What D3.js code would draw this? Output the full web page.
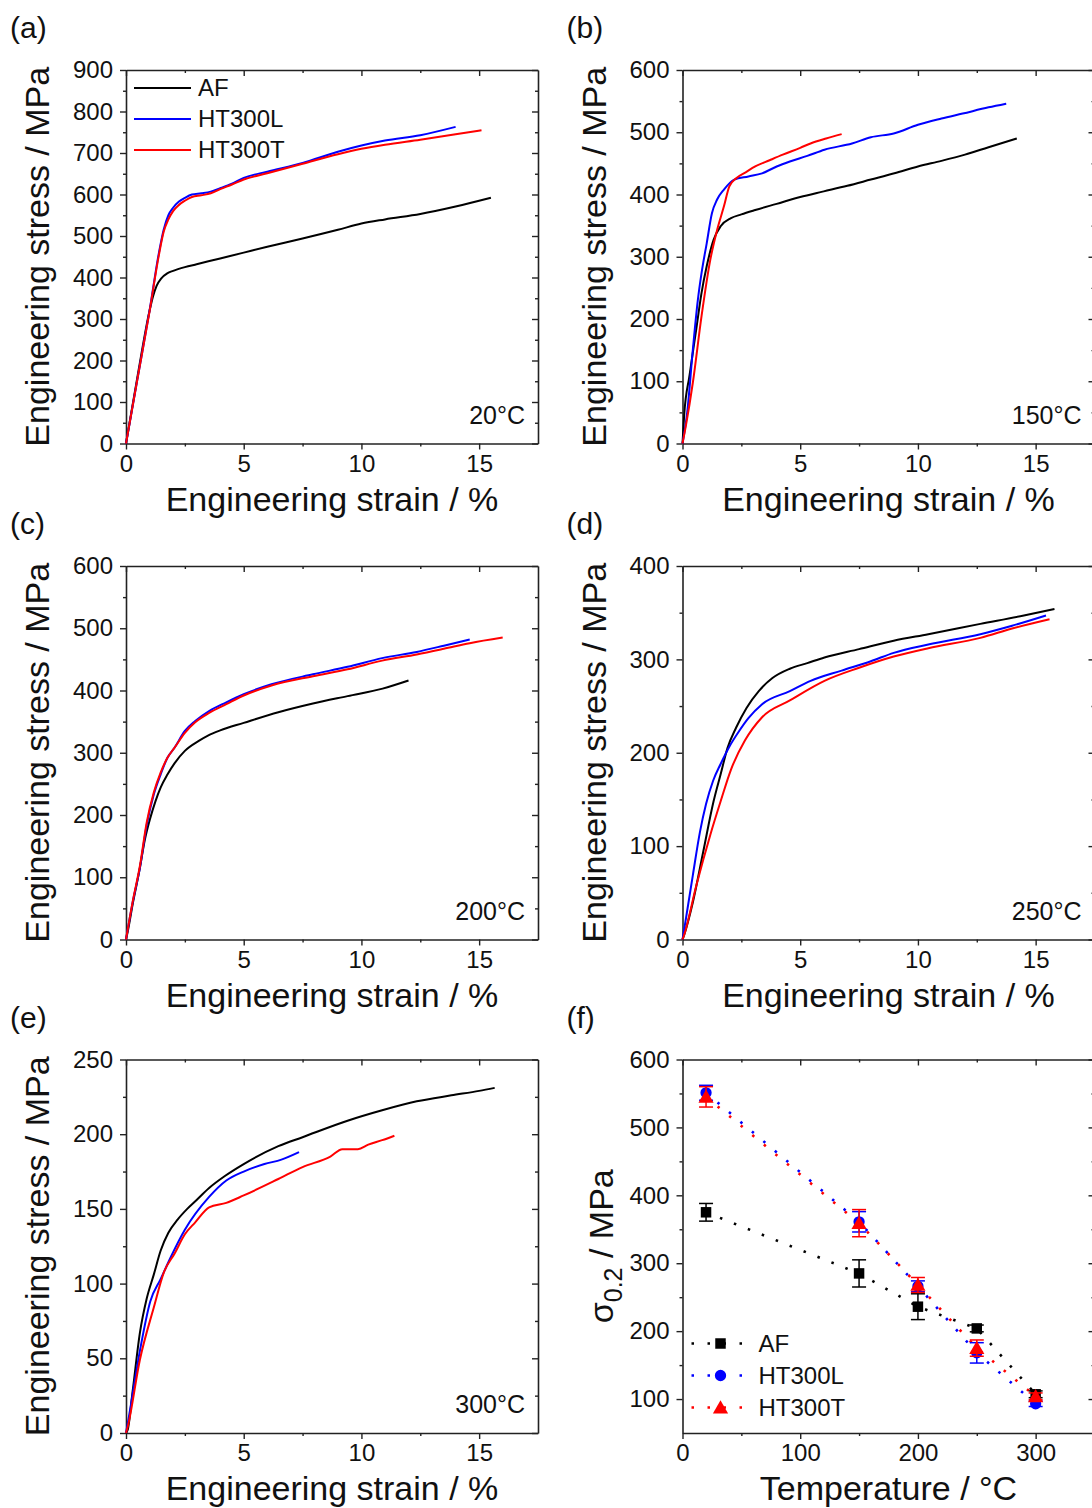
<!DOCTYPE html>
<html><head><meta charset="utf-8">
<script src="https://cdn.jsdelivr.net/npm/d3@7"></script>
<style>
body{margin:0;background:#fff}
svg{display:block}
text{font-family:"Liberation Sans",Arial,Helvetica,sans-serif;fill:#111}
.ax .domain{stroke:#222;stroke-width:1.6}
.ax .tick line{stroke:#222;stroke-width:1.4}
.ax .tick text{font-size:24px;fill:#111}
</style></head>
<body><svg id="c" width="1092" height="1508"></svg>
<script>
// ---------- series names / colours ----------
const seriesNames = ["AF", "HT300L", "HT300T"];
const seriesColors = ["#000000", "#0000ff", "#ff0000"];

// ---------- tick values ----------
const strainTicks = [0, 5, 10, 15];
const strainMinor = [2.5, 7.5, 12.5];
const stressTicks900 = [0,100,200,300,400,500,600,700,800,900];
const stressMinor900 = [50,150,250,350,450,550,650,750,850];
const stressTicks600 = [0,100,200,300,400,500,600];
const stressMinor600 = [50,150,250,350,450,550];
const stressTicks400 = [0,100,200,300,400];
const stressMinor400 = [50,150,250,350];
const stressTicks250 = [0,50,100,150,200,250];
const stressMinor250 = [25,75,125,175,225];
const tempTicks = [0,100,200,300];
const tempMinor = [50,150,250];
const sigmaTicks = [100,200,300,400,500,600];
const sigmaMinor = [150,250,350,450,550];

// ---------- (a) 20°C : [strain %, stress MPa] ----------
const a_AF = [[0,0],[0.5,165],[1.0,320],[1.15,355],[1.3,380],[1.5,398],[1.75,410],[2,416],[2.5,425],[3,432],[4,446],[5,460],[6,474],[7.5,494],[9,515],[10,530],[11,540],[12.5,553],[14,571],[15.5,592]];
const a_HT300L = [[0,0],[0.5,160],[1.0,320],[1.4,460],[1.6,515],[1.8,550],[2.0,568],[2.25,583],[2.5,592],[2.8,600],[3.2,603],[3.6,607],[4,615],[4.5,626],[5,640],[6,655],[7.5,676],[9,703],[10,718],[11,730],[12.5,743],[14,763]];
const a_HT300T = [[0,0],[0.5,160],[1.0,318],[1.4,455],[1.6,510],[1.8,540],[2.0,560],[2.25,575],[2.5,585],[2.8,594],[3.2,598],[3.6,603],[4,613],[4.5,624],[5,636],[6,651],[7.5,674],[9,697],[10,710],[11,720],[12.5,732],[14,745],[15.1,755]];

// ---------- (b) 150°C ----------
const b_AF = [[0,0],[0.07,45],[0.3,110],[0.59,185],[0.8,240],[1.03,285],[1.32,327],[1.62,349],[2.06,362],[2.5,368],[3.09,375],[4,385],[5,396],[6,405],[7,414],[8,424],[9,434],[10,445],[11,454],[12,464],[13,476],[14.2,490]];
const b_HT300L = [[0,0],[0.2,50],[0.44,151],[0.65,230],[0.81,274],[1.03,322],[1.25,370],[1.47,392],[1.76,408],[2.2,424],[2.8,429],[3.38,434],[4,445],[4.56,453],[5.3,462],[6.03,472],[7.2,482],[8,492],[8.97,498],[10,512],[11,522],[11.9,530],[13,540],[13.75,546]];
const b_HT300T = [[0,0],[0.15,30],[0.44,98],[0.81,205],[1.18,295],[1.47,343],[1.76,381],[1.99,413],[2.28,426],[2.7,436],[3.09,445],[3.7,455],[4.26,464],[5,475],[5.44,482],[6.1,490],[6.76,497]];

// ---------- (c) 200°C ----------
const c_AF = [[0,0],[0.07,12],[0.3,60],[0.59,115],[0.8,160],[1.03,195],[1.25,222],[1.47,244],[1.76,265],[2.06,283],[2.5,303],[3.09,319],[3.5,328],[4,336],[5,348],[6.47,365],[7.94,379],[9.41,391],[10.9,403],[12,416]];
const c_HT300L = [[0,0],[0.29,61],[0.59,115],[0.88,184],[1.18,233],[1.47,265],[1.76,292],[2.06,308],[2.5,335],[2.94,351],[3.53,367],[4.26,381],[5,394],[6.18,410],[7.94,426],[9.41,438],[10.88,452],[12.35,462],[13.5,472],[14.6,482]];
const c_HT300T = [[0,0],[0.29,62],[0.59,118],[0.88,188],[1.18,236],[1.47,268],[1.76,292],[2.06,308],[2.5,332],[2.94,349],[3.53,364],[4.26,378],[5,392],[6.18,408],[7.94,423],[9.41,434],[10.88,448],[12.35,458],[13.5,467],[14.6,476],[16,485]];

// ---------- (d) 250°C ----------
const d_AF = [[0,0],[0.07,5],[0.44,40],[0.88,94],[1.32,148],[1.62,177],[1.91,205],[2.28,227],[2.72,248],[3.24,266],[3.82,280],[4.56,290],[5.3,296],[6.03,302],[7.5,311],[8.97,320],[10.44,327],[12.65,338],[14.5,347],[15.8,354]];
const d_HT300L = [[0,0],[0.15,23],[0.44,69],[0.74,115],[1.0,145],[1.3,170],[1.62,188],[2.0,207],[2.4,223],[2.8,237],[3.38,252],[4.56,266],[5.44,277],[6.76,288],[8,298],[8.97,307],[10.44,316],[12.65,327],[14,336],[15.44,347]];
const d_HT300T = [[0,0],[0.07,5],[0.59,58],[1.18,112],[1.62,148],[2.06,182],[2.65,213],[3.38,238],[4.56,256],[6.03,277],[7.5,291],[8.97,303],[10.44,312],[12.65,323],[14,333],[15.59,343]];

// ---------- (e) 300°C ----------
const e_AF = [[0,0],[0.07,2],[0.29,29],[0.59,67],[0.88,90],[1.18,106],[1.47,122],[1.8,134],[2.2,143],[2.6,150],[3.0,156],[3.53,164],[4.2,172],[5,180],[6.47,192],[7.5,198],[9.41,209],[10.88,216],[12.35,222],[13.82,226],[15,229],[15.66,231]];
const e_HT300L = [[0,0],[0.07,6],[0.59,55],[1.03,88],[1.47,103],[1.91,118],[2.5,136],[3.53,158],[4.26,169],[5,175],[5.88,180],[6.6,183],[7.35,188]];
const e_HT300T = [[0,0],[0.07,4],[0.59,49],[1.18,84],[1.62,108],[2.06,120],[2.5,133],[2.94,141],[3.53,151],[4.26,154],[5,159],[6.47,170],[7.5,178],[8.68,185],[9.19,190],[9.85,190],[10.29,193],[10.88,196],[11.4,199]];

// ---------- (f) yield strength vs temperature ----------
const temps = [20, 150, 200, 250, 300];
const f_AF = [375, 285, 236, 204, 107];
const f_AF_err = [13, 20, 19, 5, 5];
const f_HT300L = [551, 361, 266, 168, 93];
const f_HT300L_err = [11, 15, 8, 15, 4];
const f_HT300T = [545, 359, 268, 175, 104];
const f_HT300T_err = [15, 20, 11, 12, 5];

// ---------- layout ----------
const svg = d3.select("#c");
const colX = [126, 682.5], rowY = [70, 566, 1059.5], W = 412, H = 373.5;

function addAxes(g, x, y, xt, xm, yt, ym) {
  const add = (axis, tr) => g.append("g").attr("class", "ax").attr("transform", tr || null).call(axis);
  add(d3.axisBottom(x).tickValues(xt).tickSize(6).tickSizeOuter(0).tickPadding(5), `translate(0,${H})`);
  add(d3.axisBottom(x).tickValues(xm).tickSize(3).tickFormat(""), `translate(0,${H})`).select(".domain").remove();
  add(d3.axisTop(x).tickValues(xt).tickSize(-6).tickSizeOuter(0).tickFormat(""));
  add(d3.axisTop(x).tickValues(xm).tickSize(-3).tickFormat("")).select(".domain").remove();
  add(d3.axisLeft(y).tickValues(yt).tickSize(6).tickSizeOuter(0).tickPadding(7));
  add(d3.axisLeft(y).tickValues(ym).tickSize(3).tickFormat("")).select(".domain").remove();
  add(d3.axisRight(y).tickValues(yt).tickSize(-6).tickSizeOuter(0).tickFormat(""), `translate(${W},0)`);
  add(d3.axisRight(y).tickValues(ym).tickSize(-3).tickFormat(""), `translate(${W},0)`).select(".domain").remove();
}

function panelFrame(col, row, letter) {
  const g = svg.append("g").attr("transform", `translate(${colX[col]},${rowY[row]})`);
  g.append("text").attr("x", -116).attr("y", -32).attr("font-size", 30).text(letter);
  return g;
}

const curvePanels = [
  {letter:"(a)", col:0, row:0, yMax:900, yt:stressTicks900, ym:stressMinor900, temp:"20°C", data:[a_AF,a_HT300L,a_HT300T], legend:true},
  {letter:"(b)", col:1, row:0, yMax:600, yt:stressTicks600, ym:stressMinor600, temp:"150°C", data:[b_AF,b_HT300L,b_HT300T]},
  {letter:"(c)", col:0, row:1, yMax:600, yt:stressTicks600, ym:stressMinor600, temp:"200°C", data:[c_AF,c_HT300L,c_HT300T]},
  {letter:"(d)", col:1, row:1, yMax:400, yt:stressTicks400, ym:stressMinor400, temp:"250°C", data:[d_AF,d_HT300L,d_HT300T]},
  {letter:"(e)", col:0, row:2, yMax:250, yt:stressTicks250, ym:stressMinor250, temp:"300°C", data:[e_AF,e_HT300L,e_HT300T]}
];

curvePanels.forEach(p => {
  const g = panelFrame(p.col, p.row, p.letter);
  const x = d3.scaleLinear().domain([0, 17.5]).range([0, W]);
  const y = d3.scaleLinear().domain([0, p.yMax]).range([H, 0]);
  addAxes(g, x, y, strainTicks, strainMinor, p.yt, p.ym);
  const line = d3.line().x(d => x(d[0])).y(d => y(d[1])).curve(d3.curveMonotoneX);
  p.data.forEach((s, i) => {
    g.append("path").datum(s).attr("d", line).attr("fill", "none")
      .attr("stroke", seriesColors[i]).attr("stroke-width", 2);
  });
  g.append("text").attr("x", W - 13).attr("y", H - 20).attr("text-anchor", "end")
    .attr("font-size", 25).text(p.temp);
  g.append("text").attr("x", W / 2).attr("y", H + 67).attr("text-anchor", "middle")
    .attr("font-size", 34).text("Engineering strain / %");
  g.append("text").attr("transform", `translate(-77,${H / 2}) rotate(-90)`).attr("text-anchor", "middle")
    .attr("font-size", 34).text("Engineering stress / MPa");
  if (p.legend) {
    seriesNames.forEach((n, i) => {
      const ly = 18 + i * 31;
      g.append("line").attr("x1", 8).attr("x2", 65).attr("y1", ly).attr("y2", ly)
        .attr("stroke", seriesColors[i]).attr("stroke-width", 2.2);
      g.append("text").attr("x", 72).attr("y", ly).attr("dy", "0.35em").attr("font-size", 24).text(n);
    });
  }
});

// ---------- panel (f) ----------
{
  const g = panelFrame(1, 2, "(f)");
  const x = d3.scaleLinear().domain([0, 350]).range([0, W]);
  const y = d3.scaleLinear().domain([50, 600]).range([H, 0]);
  addAxes(g, x, y, tempTicks, tempMinor, sigmaTicks, sigmaMinor);
  const sets = [[f_AF, f_AF_err], [f_HT300L, f_HT300L_err], [f_HT300T, f_HT300T_err]];
  const line = d3.line().x(d => x(d[0])).y(d => y(d[1]));
  const symbols = [d3.symbolSquare, d3.symbolCircle, d3.symbolTriangle];
  const symSize = [110, 100, 100];
  sets.forEach(([vals], i) => {
    g.append("path").datum(temps.map((t, k) => [t, vals[k]])).attr("d", line)
      .attr("fill", "none").attr("stroke", seriesColors[i]).attr("stroke-width", 2.6)
      .attr("stroke-dasharray", "2.5,12.5");
  });
  sets.forEach(([vals, errs], i) => {
    temps.forEach((t, k) => {
      const cx = x(t), y1 = y(vals[k] + errs[k]), y2 = y(vals[k] - errs[k]);
      g.append("line").attr("x1", cx).attr("x2", cx).attr("y1", y1).attr("y2", y2)
        .attr("stroke", seriesColors[i]).attr("stroke-width", 1.5);
      [y1, y2].forEach(yy => g.append("line").attr("x1", cx - 7).attr("x2", cx + 7)
        .attr("y1", yy).attr("y2", yy).attr("stroke", seriesColors[i]).attr("stroke-width", 1.5));
      g.append("path").attr("d", d3.symbol(symbols[i], symSize[i])())
        .attr("transform", `translate(${cx},${y(vals[k]) + (i === 2 ? 1.5 : 0)})`)
        .attr("fill", seriesColors[i]);
    });
  });
  // legend
  seriesNames.forEach((n, i) => {
    const ly = 284 + i * 32;
    g.append("line").attr("x1", 9).attr("x2", 69).attr("y1", ly).attr("y2", ly)
      .attr("stroke", seriesColors[i]).attr("stroke-width", 2.6).attr("stroke-dasharray", "2.5,13.5");
    g.append("path").attr("d", d3.symbol(symbols[i], symSize[i])())
      .attr("transform", `translate(38,${ly + (i === 2 ? 1.5 : 0)})`).attr("fill", seriesColors[i]);
    g.append("text").attr("x", 76).attr("y", ly).attr("dy", "0.35em").attr("font-size", 24).text(n);
  });
  g.append("text").attr("x", W / 2).attr("y", H + 67).attr("text-anchor", "middle")
    .attr("font-size", 34).text("Temperature / °C");
  const t = g.append("text").attr("transform", `translate(-70,${H / 2}) rotate(-90)`)
    .attr("text-anchor", "middle").attr("font-size", 34);
  t.append("tspan").text("σ");
  t.append("tspan").attr("font-size", 25).attr("dy", 9).text("0.2");
  t.append("tspan").attr("dy", -9).text(" / MPa");
}
</script>
</body></html>
